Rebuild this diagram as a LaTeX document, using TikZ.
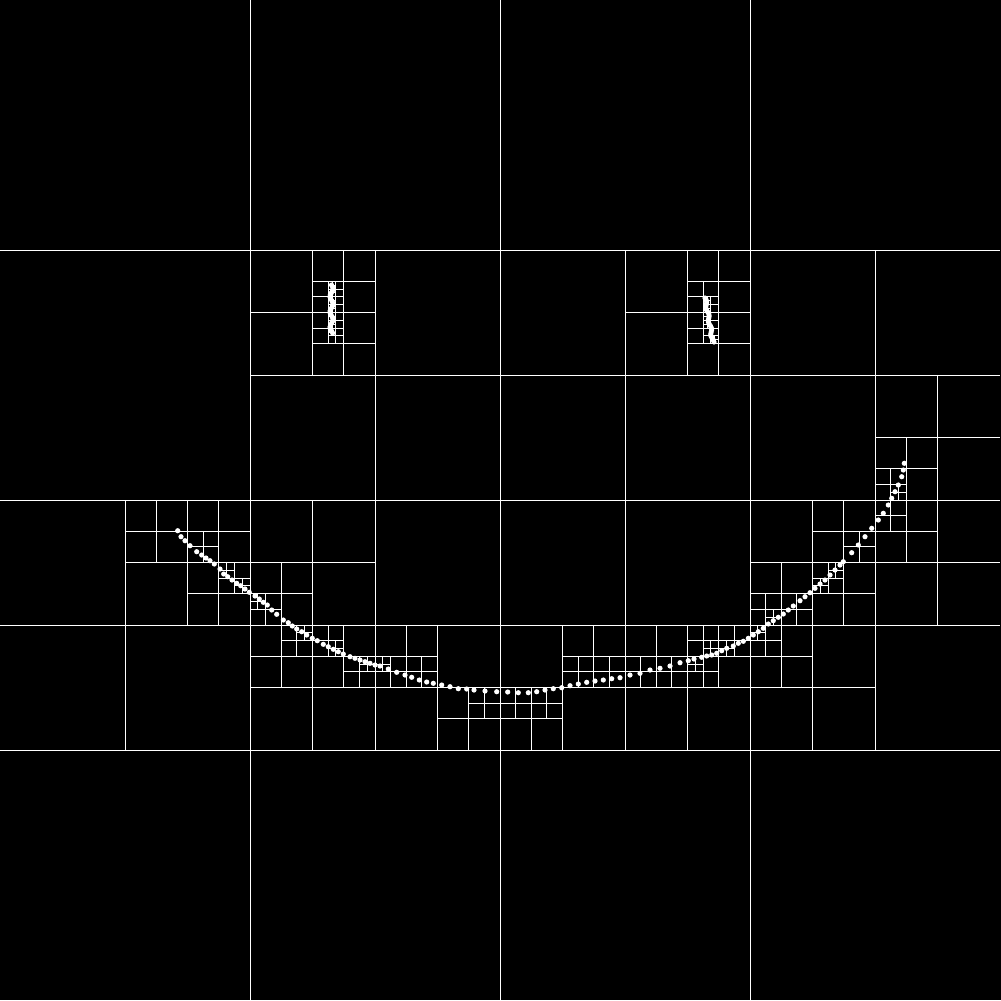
\documentclass[tikz,border=0pt]{standalone}
\usepackage{tikz}
\tikzset{
  qtline/.style={
    draw=white,
    line width=0.28pt
  },
  qtdot/.style={
    fill=white
  },
  every picture/.style={
    x=0.1mm,
    y=-0.1mm
  }
}
\newcount\qtcount
\newdimen\qtxa \newdimen\qtxb \newdimen\qtya \newdimen\qtyb
\newdimen\qtpx \newdimen\qtpy
\def\qtcap{2}
\def\qtmaxdepth{8}
% keep the points of \qtlist that lie in the current cell
\def\qtscan#1,#2;{%
  \ifdim#1pt<0pt\else
    \qtpx=#1pt \qtpy=#2pt
    \ifdim\qtpx<\qtxa\else\ifdim\qtpx<\qtxb\ifdim\qtpy<\qtya\else\ifdim\qtpy<\qtyb
      \advance\qtcount by 1
      \edef\qtsub{\qtsub#1,#2;}%
    \fi\fi\fi\fi
    \expandafter\qtscan
  \fi}
% one cell of the quadtree: x0, y0, size, depth
\def\qtcell#1#2#3#4{%
  \begingroup
    \qtxa=#1pt \qtxb=#1pt \advance\qtxb by #3pt
    \qtya=#2pt \qtyb=#2pt \advance\qtyb by #3pt
    \qtcount=0
    \def\qtsub{}%
    \expandafter\qtscan\qtlist-1,-1;%
    \let\qtlist\qtsub
    \ifnum\qtcount>\qtcap\relax
      \ifnum#4<\qtmaxdepth\relax
        \pgfmathsetmacro\qth{#3/2}%
        \pgfmathsetmacro\qtxm{#1+\qth}%
        \pgfmathsetmacro\qtym{#2+\qth}%
        \pgfmathsetmacro\qtxe{#1+#3}%
        \pgfmathsetmacro\qtye{#2+#3}%
        \pgfmathtruncatemacro\qtd{#4+1}%
        \draw[qtline] (\qtxm,#2) -- (\qtxm,\qtye);
        \draw[qtline] (#1,\qtym) -- (\qtxe,\qtym);
        \edef\qtkids{%
          \noexpand\qtcell{#1}{#2}{\qth}{\qtd}%
          \noexpand\qtcell{\qtxm}{#2}{\qth}{\qtd}%
          \noexpand\qtcell{#1}{\qtym}{\qth}{\qtd}%
          \noexpand\qtcell{\qtxm}{\qtym}{\qth}{\qtd}}%
        \qtkids
      \fi
    \fi
  \endgroup}
\def\qtdots#1,#2;{%
  \ifdim#1pt<0pt\else
    \fill[qtdot] (#1,#2) circle[radius=0.26mm];
    \expandafter\qtdots
  \fi}
\begin{document}
\begin{tikzpicture}
  \fill[black] (0,0) rectangle (1001,1000);
  \useasboundingbox (0,0) rectangle (1001,1000);
  \xdef\qtlist{%
    177.7,530.7;181,536.7;185,540.7;190,545.7;196.7,551.7;201.7,555;206,558;210,560.7;
    214.3,564;220,569;223.7,574;227.7,576.7;232,580;236.7,583.3;240.7,585.7;245,589;
    249.3,592.3;255,596;259.3,599;263.3,602.3;267.3,605;271.7,610;276.7,614.3;283.3,620;
    288.3,622.7;292.3,626;296.7,629;301.7,631.7;306.7,635;312.3,638.3;317.3,640.7;
    323.3,644.3;328.3,646.7;333.3,649.3;338.3,651.7;343.3,654;350,656.7;355,658.3;
    360,660;365,661.7;370,663.3;375,665;380,666;388.3,669;396.7,672.3;405,675;
    411.7,677.3;419.3,680;426.7,682;433.3,683.3;441.7,685;450,686.7;458.3,688.7;
    466.7,689;474,690;485,691;496.7,691.7;507.7,692;518.3,692.7;528.3,692.7;
    536.7,691.7;545,690;553.3,688.7;561.7,687.7;570,685.7;578.3,684;586.7,682.3;
    595,681;603.3,680;611.7,678.7;620,677.7;630,675;640,673.3;650,670;660,668.3;
    670,666;680,662.7;688.3,660.7;694,659;701.7,657.3;706.7,656;711.7,655;716.7,653.3;
    721.7,650.7;726.7,648.3;733.3,646;738.3,643.3;743.3,641.3;748.3,638.3;753.3,635;
    758.3,631.7;763.3,628.3;768.3,624;773.3,620.7;778.3,617.3;783.3,614;788.3,610;
    793.3,606;800,600.7;805,596.7;810,592.7;815,588.3;820,584;825,580;830,575;835,570;
    840,565;843.3,561.7;851.7,552.7;858.3,545;865,536.7;871.7,528.3;878.3,520;
    883.3,513.3;888.3,505;891.7,498.3;895,491.7;898.3,485;901.7,476.7;903.3,470;
    904.3,463.3;}
  \foreach \i in {0,...,24}{
    \pgfmathsetmacro\ex{331.5+1.5*sin(\i*47)}
    \pgfmathsetmacro\ey{285+2*\i}
    \xdef\qtlist{\qtlist\ex,\ey;}
  }
  \foreach \i in {0,...,22}{
    \pgfmathsetmacro\ex{705+8*\i/22+sin(\i*53)}
    \pgfmathsetmacro\ey{298+2*\i}
    \xdef\qtlist{\qtlist\ex,\ey;}
  }
  \qtcell{0}{0}{1000}{0}
  \expandafter\qtdots\qtlist-1,-1;
\end{tikzpicture}
\end{document}
